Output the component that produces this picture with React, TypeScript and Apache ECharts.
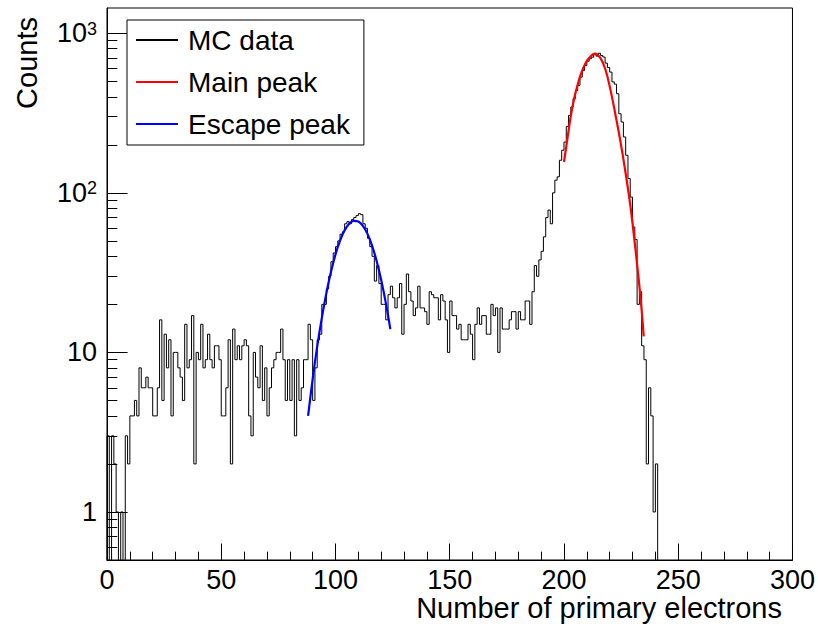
import React, { useEffect, useRef } from "react";
import * as echarts from "echarts";

const FONT = '"Liberation Sans", Arial, Helvetica, sans-serif';

// Histogram: bin width 1, first bin starts at 0 (number of primary electrons)
const binStart = 0;
const binWidth = 1;
const counts: number[] = [
  3, 0, 3, 2, 1, 0, 1, 0, 3, 2,
  4, 4, 5, 4, 8, 6, 6, 7, 6, 6,
  4, 4, 6, 16, 5, 13, 8, 12, 4, 10,
  10, 8, 7, 5, 15, 8, 9, 17, 2, 10,
  9, 15, 8, 9, 13, 9, 8, 11, 11, 9,
  4, 4, 6, 12, 2, 14, 9, 11, 9, 11,
  12, 11, 4, 3, 10, 7, 6, 11, 5, 8,
  4, 6, 8, 9, 10, 10, 14, 9, 5, 9,
  5, 9, 3, 9, 5, 6, 9, 9, 15, 12,
  5, 8, 12, 13, 20, 20, 25, 30, 37, 42,
  46, 50, 55, 57, 64, 66, 64, 68, 70, 72,
  74, 73, 64, 60, 52, 46, 40, 28, 35, 27,
  20, 20, 16, 23, 26, 22, 19, 22, 27, 13,
  20, 31, 24, 21, 17, 19, 26, 19, 19, 18,
  15, 24, 23, 22, 22, 16, 23, 21, 16, 10,
  21, 17, 17, 14, 15, 12, 12, 12, 15, 13,
  9, 15, 19, 15, 17, 17, 13, 13, 20, 17,
  19, 10, 19, 14, 14, 14, 16, 18, 18, 14,
  18, 16, 16, 21, 21, 15, 24, 35, 30, 38,
  43, 53, 70, 78, 64, 100, 120, 126, 160, 185,
  208, 261, 306, 345, 389, 438, 471, 531, 585, 628,
  668, 692, 708, 736, 720, 750, 726, 710, 650, 610,
  571, 496, 480, 418, 313, 278, 224, 172, 123, 94,
  61, 51, 20, 24, 11, 9, 2, 6, 4, 1, 2,
];

// Main peak fit curve
const mainFitX = [200, 201.4, 202.8, 204.3, 205.7, 207.2, 208.6, 210.1, 211.6, 213.5, 215.9, 218.1, 220.3, 222.5, 224.7, 226.9, 229.1, 231.3, 233.5, 234.9];
const mainFitY = [156, 213, 292, 380, 460, 544, 613, 675, 715, 745, 700, 595, 445, 310, 210, 135, 82, 44, 22, 12.6];

// Escape peak fit curve
const escFitX = [88, 90, 92, 94, 96, 98, 100, 102, 104, 106, 108, 110, 112, 114, 116, 118, 120, 122, 124];
const escFitY = [4.0, 6.8, 10.9, 16.4, 23.5, 31.9, 41.1, 50.2, 58.3, 64.1, 66.8, 66.1, 62.1, 55.3, 46.7, 37.4, 28.4, 20.5, 14.0];

const xMin = 0;
const xMax = 300;
const xInterval = 50;
const yMin = 0.5;
const yMax = 1440;
const yMajorTicks = [1, 10, 100, 1000];
const yMinorTicks = [
  0.6, 0.7, 0.8, 0.9,
  2, 3, 4, 5, 6, 7, 8, 9,
  20, 30, 40, 50, 60, 70, 80, 90,
  200, 300, 400, 500, 600, 700, 800, 900,
];

const seriesNames = ["MC data", "Main peak", "Escape peak"];
const xTitle = "Number of primary electrons";
const yTitle = "Counts";

function histogramPoints(): number[][] {
  const floor = 1e-3; // empty bins go below the frame
  const pts: number[][] = [[binStart, floor]];
  counts.forEach((c, i) => pts.push([binStart + i * binWidth, c > 0 ? c : floor]));
  pts.push([binStart + counts.length * binWidth, floor]);
  return pts;
}

function pairs(xs: number[], ys: number[]): number[][] {
  return xs.map((x, i) => [x, ys[i]]);
}

function yLabel(v: number): string {
  const e = Math.round(Math.log10(v));
  if (e === 0) return "{b|1}";
  if (e === 1) return "{b|10}";
  return `{b|10}{s|${e}}`;
}

export default function App() {
  const ref = useRef<HTMLDivElement>(null);

  useEffect(() => {
    if (!ref.current) return;
    const chart = echarts.init(ref.current, undefined, { renderer: "svg" });
    const option: any = {
      animation: false,
      backgroundColor: "#fff",
      textStyle: { fontFamily: FONT, color: "#000" },
      grid: {
        left: 107,
        top: 8,
        width: 685.7,
        height: 552,
        show: true,
        borderColor: "#000",
        borderWidth: 1,
        backgroundColor: "#fff",
        containLabel: false,
      },
      legend: {
        orient: "vertical",
        left: 127,
        top: 20,
        data: seriesNames,
        backgroundColor: "#fff",
        borderColor: "#000",
        borderWidth: 1,
        borderRadius: 0,
        padding: [5, 14, 6, 8],
        itemWidth: 42,
        itemHeight: 14,
        itemGap: 12,
        selectedMode: false,
        itemStyle: { opacity: 0 },
        textStyle: {
          fontSize: 28,
          lineHeight: 30,
          color: "#000",
          fontFamily: FONT,
          padding: [0, 0, 0, 5],
        },
      },
      xAxis: {
        type: "value",
        min: xMin,
        max: xMax,
        interval: xInterval,
        axisLine: { show: true, onZero: false, lineStyle: { color: "#000", width: 1 } },
        axisTick: { show: true, inside: true, length: 16.5, lineStyle: { color: "#000", width: 1 } },
        minorTick: { show: true, splitNumber: 5, length: 8.3, lineStyle: { color: "#000", width: 1 } },
        axisLabel: { show: true, fontSize: 27, color: "#000", margin: 6, fontFamily: FONT },
        splitLine: { show: false },
        minorSplitLine: { show: false },
      },
      yAxis: [
        {
          type: "log",
          logBase: 10,
          min: yMin,
          max: yMax,
          position: "left",
          axisLine: { show: true, lineStyle: { color: "#000", width: 1 } },
          axisTick: {
            show: true,
            inside: true,
            length: 20.6,
            customValues: yMajorTicks,
            lineStyle: { color: "#000", width: 1 },
          },
          minorTick: { show: false },
          axisLabel: {
            show: true,
            customValues: yMajorTicks,
            margin: 10,
            formatter: (v: number) => yLabel(v),
            rich: {
              b: { fontSize: 27, lineHeight: 27, color: "#000", fontFamily: FONT, verticalAlign: "bottom" },
              s: { fontSize: 18, lineHeight: 18, color: "#000", fontFamily: FONT, verticalAlign: "top", padding: [0, 0, 12, 0] },
            },
          },
          splitLine: { show: false },
        },
        {
          type: "log",
          logBase: 10,
          min: yMin,
          max: yMax,
          position: "left",
          axisLine: { show: false },
          axisTick: {
            show: true,
            inside: true,
            length: 10.3,
            customValues: yMinorTicks,
            lineStyle: { color: "#000", width: 1 },
          },
          axisLabel: { show: false },
          splitLine: { show: false },
        },
      ],
      graphic: [
        {
          type: "text",
          x: 782,
          y: 608,
          style: {
            text: xTitle,
            align: "right",
            verticalAlign: "middle",
            fontSize: 29,
            fontFamily: FONT,
            fill: "#000",
          },
        },
        {
          type: "text",
          x: 26.5,
          y: 17,
          rotation: Math.PI / 2,
          style: {
            text: yTitle,
            align: "right",
            verticalAlign: "middle",
            fontSize: 29,
            fontFamily: FONT,
            fill: "#000",
          },
        },
      ],
      series: [
        {
          name: seriesNames[0],
          type: "line",
          step: "end",
          data: histogramPoints(),
          symbol: "none",
          clip: true,
          lineStyle: { color: "#000", width: 1 },
          itemStyle: { color: "#000" },
          z: 2,
        },
        {
          name: seriesNames[1],
          type: "line",
          data: pairs(mainFitX, mainFitY),
          smooth: 0.4,
          symbol: "none",
          clip: true,
          lineStyle: { color: "#ff0000", width: 2.2 },
          itemStyle: { color: "#ff0000" },
          z: 3,
        },
        {
          name: seriesNames[2],
          type: "line",
          data: pairs(escFitX, escFitY),
          smooth: 0.4,
          symbol: "none",
          clip: true,
          lineStyle: { color: "#0000ff", width: 2.2 },
          itemStyle: { color: "#0000ff" },
          z: 3,
        },
      ],
    };
    chart.setOption(option);
    return () => chart.dispose();
  }, []);

  return (
    <div
      ref={ref}
      style={{ position: "absolute", left: 0, top: 0, width: 818, height: 628 }}
    />
  );
}
